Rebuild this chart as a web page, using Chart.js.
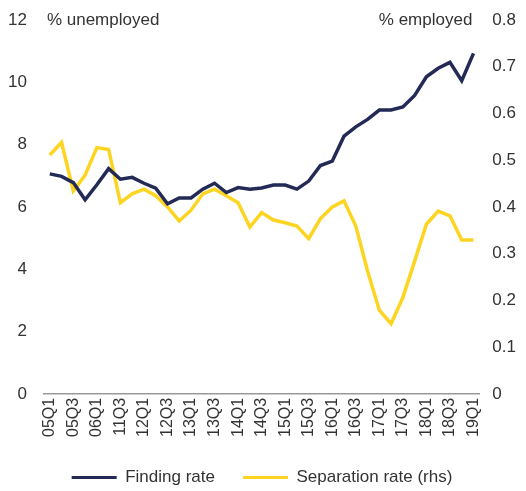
<!DOCTYPE html>
<html>
<head>
<meta charset="utf-8">
<script src="https://cdn.jsdelivr.net/npm/chart.js@4"></script>
<style>
  body { margin: 0; background: #fff; }
</style>
</head>
<body>
<canvas id="grafico" width="526" height="491"></canvas>
<script>
const quarters = [
    "05Q1", "05Q2", "05Q3", "05Q4", "06Q1", "11Q2", "11Q3", "11Q4",
    "12Q1", "12Q2", "12Q3", "12Q4", "13Q1", "13Q2", "13Q3", "13Q4",
    "14Q1", "14Q2", "14Q3", "14Q4", "15Q1", "15Q2", "15Q3", "15Q4",
    "16Q1", "16Q2", "16Q3", "16Q4", "17Q1", "17Q2", "17Q3", "17Q4",
    "18Q1", "18Q2", "18Q3", "18Q4", "19Q1"
];

// % unemployed (left axis)
const findingRate = [
    7.06, 6.98, 6.78, 6.23, 6.71, 7.23, 6.89, 6.95, 6.76, 6.60, 6.10, 6.29,
    6.29, 6.57, 6.76, 6.46, 6.62, 6.57, 6.61, 6.70, 6.70, 6.57, 6.83, 7.33,
    7.47, 8.27, 8.57, 8.81, 9.11, 9.11, 9.21, 9.58, 10.18, 10.45, 10.64, 10.05,
    10.93
];

// % employed (right axis)
const separationRate = [
    0.511, 0.538, 0.434, 0.468, 0.527, 0.523, 0.409, 0.428, 0.438, 0.424, 0.400, 0.370,
    0.393, 0.428, 0.438, 0.424, 0.409, 0.357, 0.388, 0.372, 0.366, 0.359, 0.332, 0.375,
    0.400, 0.413, 0.359, 0.263, 0.179, 0.150, 0.206, 0.284, 0.363, 0.391, 0.381, 0.329,
    0.329
];

const leftTitle = "% unemployed";
const rightTitle = "% employed";

const corTexto = "#333333";
const fonte = { family: "'Liberation Sans', Arial, sans-serif", size: 17 };

Chart.defaults.font.family = fonte.family;
Chart.defaults.font.size = fonte.size;
Chart.defaults.color = corTexto;

// titulos dos eixos dentro da area do grafico
const titulosEixos = {
    id: "titulosEixos",
    afterDraw(chart) {
        const { ctx, chartArea } = chart;
        ctx.save();
        ctx.font = "17px " + fonte.family;
        ctx.fillStyle = corTexto;
        ctx.textBaseline = "middle";
        ctx.textAlign = "left";
        ctx.fillText(leftTitle, chartArea.left + 3, chartArea.top);
        ctx.textAlign = "right";
        ctx.fillText(rightTitle, chartArea.right - 7, chartArea.top);
        ctx.restore();
    },
};

new Chart(document.getElementById("grafico").getContext("2d"), {
    type: "line",
    data: {
        labels: quarters,
        datasets: [
            {
                label: "Finding rate",
                data: findingRate,
                borderColor: "#232a55",
                backgroundColor: "#232a55",
                borderWidth: 3.5,
                pointRadius: 0,
                tension: 0,
                yAxisID: "y",
            },
            {
                label: "Separation rate (rhs)",
                data: separationRate,
                borderColor: "#fdd520",
                backgroundColor: "#fdd520",
                borderWidth: 3.5,
                pointRadius: 0,
                tension: 0,
                yAxisID: "y1",
            },
        ],
    },
    options: {
        responsive: false,
        animation: false,
        layout: { padding: { top: 20, left: 6, right: 8, bottom: -5 } },
        plugins: {
            legend: {
                position: "bottom",
                labels: {
                    boxWidth: 45,
                    boxHeight: 3,
                    padding: 28,
                    generateLabels: (chart) =>
                        Chart.defaults.plugins.legend.labels.generateLabels(chart).map((l) => ({ ...l, lineWidth: 0 })),
                },
            },
            tooltip: { enabled: false },
        },
        scales: {
            x: {
                offset: true,
                grid: { display: false, drawTicks: false },
                border: { display: true, color: "#999999", width: 1.5 },
                ticks: {
                    autoSkip: false,
                    maxRotation: 90,
                    minRotation: 90,
                    padding: 4,
                    font: { size: 16 },
                    callback: function (value, index) {
                        return index % 2 === 0 ? quarters[index] : "";
                    },
                },
            },
            y: {
                position: "left",
                min: 0,
                max: 12,
                grid: { display: false, tickLength: 15 },
                border: { display: false },
                ticks: { stepSize: 2, padding: 2 },
            },
            y1: {
                position: "right",
                min: 0,
                max: 0.8,
                grid: { display: false, tickLength: 11 },
                border: { display: false },
                ticks: { stepSize: 0.1, padding: 2 },
            },
        },
    },
    plugins: [titulosEixos],
});
</script>
</body>
</html>
